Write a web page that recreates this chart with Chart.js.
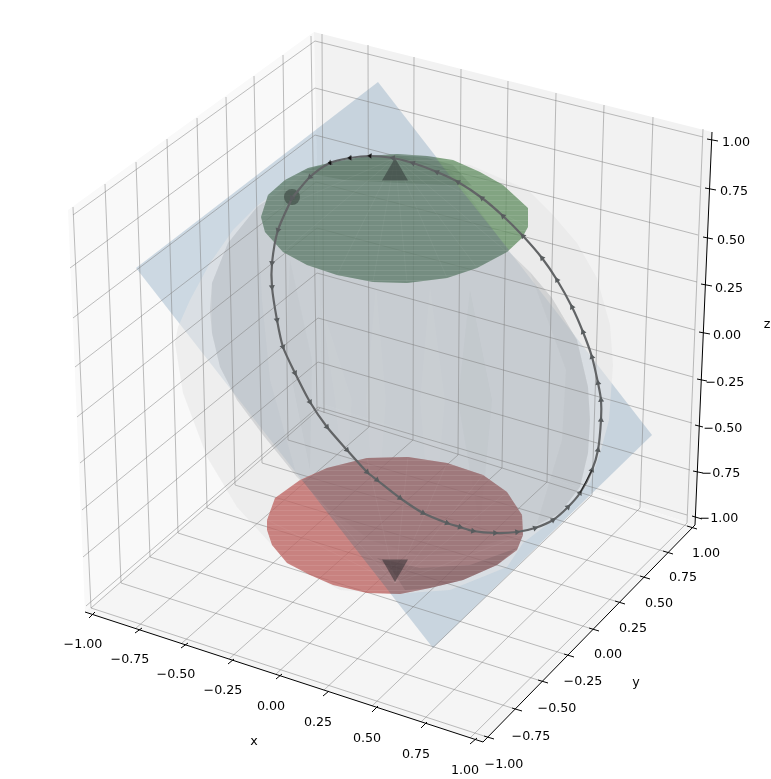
<!DOCTYPE html>
<html lang="en">
<head>
<meta charset="UTF-8">
<title>Bloch sphere</title>
<script src="https://cdn.jsdelivr.net/npm/chart.js"></script>
<style>
    body { margin: 0; background: #fff; }
    #wrap { width: 771px; height: 779px; }
</style>
</head>
<body>
<div id="wrap"><canvas id="myChart" width="771" height="779"></canvas></div>
<script>
    var leftWall = [[68,210],[314,32],[322,404],[85,612]];
    var backWall = [[314,32],[712,132],[695,525],[322,404]];
    var floorPane = [[85,612],[322,404],[695,525],[483,742]];

    var leftVerticals = [[73,207,91,608],[105,184,121,583],[136,162,150,557],[167,139,178,533],[197,118,207,508],[226,97,235,485],[254,76,262,463],[283,55,288,440],[311,36,317,410]];
    var backVerticals = [[322,34,324,413],[368,45,369,427],[414,57,413,440],[461,69,458,455],[508,81,502,468],[556,93,547,482],[604,105,592,495],[653,117,640,508],[703,129,687,523]];
    var leftZLines = [[73,215,315,41],[70,268,315,88],[73,318,315,135],[75,367,316,182],[77,417,317,228],[80,463,317,273],[82,510,318,318],[83,557,318,362],[86,606,318,407]];
    var backZLines = [[315,41,703,137],[315,88,700,187],[315,135,698,235],[316,182,697,282],[317,228,695,330],[317,273,693,377],[318,318,692,423],[318,362,690,470],[318,407,687,515]];
    var floorXLines = [[320,408,91,608],[369,427,136,628],[413,440,182,643],[458,455,229,659],[502,468,276,674],[547,482,324,690],[592,495,372,706],[640,508,421,722],[687,523,470,738]];
    var floorYLines = [[91,608,484,736],[121,583,512,708],[150,557,538,680],[178,533,564,654],[207,508,589,628],[235,485,615,601],[262,463,640,576],[288,440,663,551],[317,410,687,526]];

    var axisLines = [[85,612,483,742],[483,742,695,525],[695,525,712,132]];
    var xTicks = [[89,618,95,612],[135,633,142,628],[181,648,188,643],[228,664,234,659],[276,679,282,674],[323,696,329,691],[372,712,378,706],[421,728,427,722],[470,744,477,738]];
    var yTicks = [[484,736,494,739],[512,708,522,711],[538,680,548,683],[564,654,574,657],[589,628,599,631],[615,601,625,604],[640,576,650,579],[663,551,673,554],[687,526,697,529]];
    var zTicks = [[692,516,702,519],[693,471,703,473],[695,425,703,427],[697,379,707,381],[699,332,710,334],[701,284,712,286],[703,237,713,239],[705,188,716,190],[707,139,718,141]];

    var tickLabels = ['\u22121.00','\u22120.75','\u22120.50','\u22120.25','0.00','0.25','0.50','0.75','1.00'];
    var xLabelPos = [[83,645],[130,660],[176,675],[223,691],[271,707],[318,723],[367,739],[416,755],[465,771]];
    var yLabelPos = [[504,765],[531,737],[557,709],[583,682],[608,655],[633,629],[659,604],[683,578],[706,554]];
    var zLabelPos = [[719,519],[721,474],[723,429],[725,383],[727,336],[729,289],[731,241],[734,192],[736,143]];
    var axisTitles = [['x',254,742],['y',636,683],['z',767,325]];

    var planeOutline = [[378,82],[652,435],[433,648],[136,268]];
    var sphereOutline = [[395,155],[470,165],[528,190],[553,215],[577,243],[597,278],[610,325],[613,365],[609,420],[601,450],[590,483],[553,520],[523,543],[507,567],[450,590],[395,594],[340,590],[290,563],[270,543],[237,507],[207,457],[183,393],[175,343],[178,327],[190,300],[210,263],[233,230],[258,205],[300,175],[350,160]];
    var discOutline = [[257,207],[300,178],[350,160],[400,155],[450,170],[490,225],[507,250],[530,272],[552,298],[577,340],[588,387],[590,420],[588,453],[580,487],[560,513],[522,533],[470,550],[420,556],[370,540],[330,510],[297,477],[263,435],[237,400],[220,367],[212,333],[210,310],[212,283],[228,243]];
    var discEdgeLeft = [[212,283],[228,243],[257,207],[262,300],[270,380],[297,477],[263,435],[237,400],[220,367],[212,333]];
    var discEdgeRight = [[530,272],[552,298],[577,340],[588,387],[590,420],[588,453],[580,487],[560,513],[535,530],[562,440],[566,370]];
    var lightFacets = [
        [[376,283],[366,400],[376,540],[386,400]],
        [[320,300],[335,400],[345,500],[352,400]],
        [[430,285],[420,400],[432,550],[445,400]]
    ];
    var darkFacets = [
        [[470,290],[458,400],[480,530],[492,400]],
        [[290,260],[286,350],[310,470],[312,360]]
    ];

    var greenCap = [[261,217],[268,195],[285,180],[308,168],[333,162],[367,156],[397,154],[427,156],[453,160],[480,172],[503,185],[528,208],[528,227],[522,238],[507,252],[477,268],[447,278],[407,283],[373,282],[337,275],[307,265],[283,252],[265,232]];
    var greenCapBehindPlane = [[261,217],[268,195],[285,180],[308,168],[333,162],[367,156],[397,154],[427,156],[435,157],[509,250],[507,252],[477,268],[447,278],[407,283],[373,282],[337,275],[307,265],[283,252],[265,232]];
    var greenCapTop = [[300,172],[333,162],[367,156],[397,155],[427,158],[453,165],[472,186],[400,183],[345,180]];
    var greenRidges = [[395,158,261,217],[395,158,283,252],[395,158,337,275],[395,158,373,282],[395,158,407,283],[395,158,447,278],[395,158,477,268],[395,158,507,252],[395,158,528,227]];
    var redCap = [[267,520],[275,498],[300,480],[327,468],[367,458],[408,457],[447,463],[483,475],[507,492],[522,515],[523,535],[517,550],[497,565],[463,580],[430,588],[400,594],[367,593],[333,585],[310,575],[287,563],[272,545],[267,530]];
    var redCapBehindPlane = [[302,480],[327,468],[367,458],[408,457],[447,463],[483,475],[507,492],[522,515],[523,535],[517,550],[497,565],[463,580],[430,588],[400,594],[391,594]];
    var redCapBand = [[377,558],[420,568],[470,565],[517,548],[497,565],[463,580],[430,588],[405,590],[392,570]];
    var redRidges = [[395,583,267,520],[395,583,300,480],[395,583,367,458],[395,583,408,457],[395,583,447,463],[395,583,483,475],[395,583,507,492],[395,583,523,535]];

    var trajectory = [[292,198],[310,177],[330,163],[350,158],[370,156],[393,158],[413,163],[437,172],[458,182],[482,198],[503,216],[523,236],[542,258],[557,280],[572,307],[583,332],[592,357],[598,383],[601,400],[601,420],[598,450],[592,470],[580,493],[568,507],[553,520],[535,528],[517,532],[495,533],[473,531],[460,527],[447,523],[423,513],[400,498],[377,480],[367,472],[347,450],[327,427],[310,402],[295,373],[283,347],[277,320],[272,287],[272,263],[278,230],[292,198]];
    var darkStretch = [[592,470],[580,493]];
    var darkTips = [[330,163],[350,158],[370,156]];
    var startPoint = [[292,197]];
    var northPole = [[395,173]];
    var southPole = [[395,567]];

    var order = 1000;
    var datasets = [];

    function pts(list) {
        return list.map(function (p) { return { x: p[0], y: p[1] }; });
    }

    function addShape(list, color) {
        datasets.push({ data: pts(list), showLine: true, fill: 'shape', backgroundColor: color, borderWidth: 0, pointRadius: 0, order: order-- });
    }

    function addLines(list, color, width) {
        list.forEach(function (s) {
            datasets.push({ data: [{ x: s[0], y: s[1] }, { x: s[2], y: s[3] }], showLine: true, fill: false, borderColor: color, borderWidth: width, pointRadius: 0, order: order-- });
        });
    }

    function addMarker(list, style, radius, color, rotation) {
        datasets.push({ data: pts(list), showLine: false, pointStyle: style, pointRadius: radius, pointRotation: rotation || 0, backgroundColor: color, borderWidth: 0, order: order-- });
    }

    // faint stripes for the fine mesh on the two caps
    function meshPattern() {
        var c = document.createElement('canvas');
        c.width = 8;
        c.height = 5;
        var g = c.getContext('2d');
        g.fillStyle = 'rgba(255,255,255,0.09)';
        g.fillRect(0, 0, 8, 1);
        return g.createPattern(c, 'repeat');
    }

    // arrow direction from the neighbouring points of the path
    var arrowAngles = trajectory.map(function (p, i) {
        var prev = trajectory[Math.max(i - 1, 0)];
        var next = trajectory[Math.min(i + 1, trajectory.length - 1)];
        return Math.atan2(prev[0] - next[0], next[1] - prev[1]) * 180 / Math.PI;
    });

    addShape(leftWall, '#f9f9f9');
    addShape(backWall, '#f2f2f2');
    addShape(floorPane, '#f5f5f5');

    addShape(planeOutline, 'rgba(70,120,160,0.25)');
    addShape(sphereOutline, 'rgba(230,230,230,0.55)');
    addShape(discOutline, 'rgba(140,145,150,0.22)');
    addShape(discEdgeLeft, 'rgba(120,135,150,0.05)');
    addShape(discEdgeRight, 'rgba(110,115,120,0.05)');
    lightFacets.forEach(function (f) { addShape(f, 'rgba(255,255,255,0.04)'); });
    darkFacets.forEach(function (f) { addShape(f, 'rgba(110,115,120,0.04)'); });

    var gridColor = 'rgba(125,125,125,0.5)';
    addLines(leftVerticals, gridColor, 1);
    addLines(backVerticals, gridColor, 1);
    addLines(leftZLines, gridColor, 1);
    addLines(backZLines, gridColor, 1);
    addLines(floorXLines, gridColor, 1);
    addLines(floorYLines, gridColor, 1);

    addLines(axisLines, '#000', 1);
    addLines(xTicks, '#000', 1);
    addLines(yTicks, '#000', 1);
    addLines(zTicks, '#000', 1);

    addShape(greenCap, 'rgba(100,143,100,0.78)');
    addShape(greenCapBehindPlane, 'rgba(100,80,150,0.2)');
    addShape(greenCapTop, 'rgba(40,70,50,0.14)');
    addShape(greenCap, meshPattern());
    addLines(greenRidges, 'rgba(255,255,255,0.04)', 1);
    addShape(redCap, 'rgba(190,100,98,0.78)');
    addShape(redCapBehindPlane, 'rgba(60,115,130,0.25)');
    addShape(redCapBand, 'rgba(50,40,50,0.13)');
    addShape(redCap, meshPattern());
    addLines(redRidges, 'rgba(255,255,255,0.04)', 1);

    addMarker(northPole, 'triangle', 15, 'rgba(50,55,55,0.55)');
    addMarker(southPole, 'triangle', 15, 'rgba(50,45,50,0.55)', 180);
    addMarker(startPoint, 'circle', 8, 'rgba(50,60,55,0.55)');

    datasets.push({
        data: pts(trajectory), showLine: true, fill: false, tension: 0.25,
        borderColor: 'rgba(98,100,102,1)', borderWidth: 2.2,
        pointStyle: 'triangle', pointRadius: 3.5, pointRotation: arrowAngles,
        pointBackgroundColor: 'rgba(88,92,94,1)', pointBorderWidth: 0, order: order--
    });
    datasets.push({ data: pts(darkStretch), showLine: true, fill: false, borderColor: '#222', borderWidth: 1, pointRadius: 0, order: order-- });
    addMarker(darkTips, 'triangle', 2.5, '#111', -85);

    var labelPlugin = {
        id: 'axisText',
        afterDatasetsDraw: function (chart) {
            var ctx = chart.ctx;
            var sx = chart.scales.x;
            var sy = chart.scales.y;
            ctx.save();
            ctx.fillStyle = '#000';
            ctx.font = '12.7px "DejaVu Sans"';
            ctx.textAlign = 'center';
            ctx.textBaseline = 'middle';
            [xLabelPos, yLabelPos, zLabelPos].forEach(function (group) {
                group.forEach(function (p, i) {
                    ctx.fillText(tickLabels[i], sx.getPixelForValue(p[0]), sy.getPixelForValue(p[1]));
                });
            });
            axisTitles.forEach(function (t) {
                ctx.fillText(t[0], sx.getPixelForValue(t[1]), sy.getPixelForValue(t[2]));
            });
            ctx.restore();
        }
    };

    var myChart = new Chart(document.getElementById('myChart').getContext('2d'), {
        type: 'scatter',
        data: { datasets: datasets },
        options: {
            responsive: false,
            animation: false,
            layout: { padding: 0, autoPadding: false },
            plugins: { legend: { display: false }, tooltip: { enabled: false } },
            scales: {
                x: { type: 'linear', display: false, min: 0, max: 771 },
                y: { type: 'linear', display: false, min: 0, max: 779, reverse: true }
            }
        },
        plugins: [labelPlugin]
    });
</script>
</body>
</html>
